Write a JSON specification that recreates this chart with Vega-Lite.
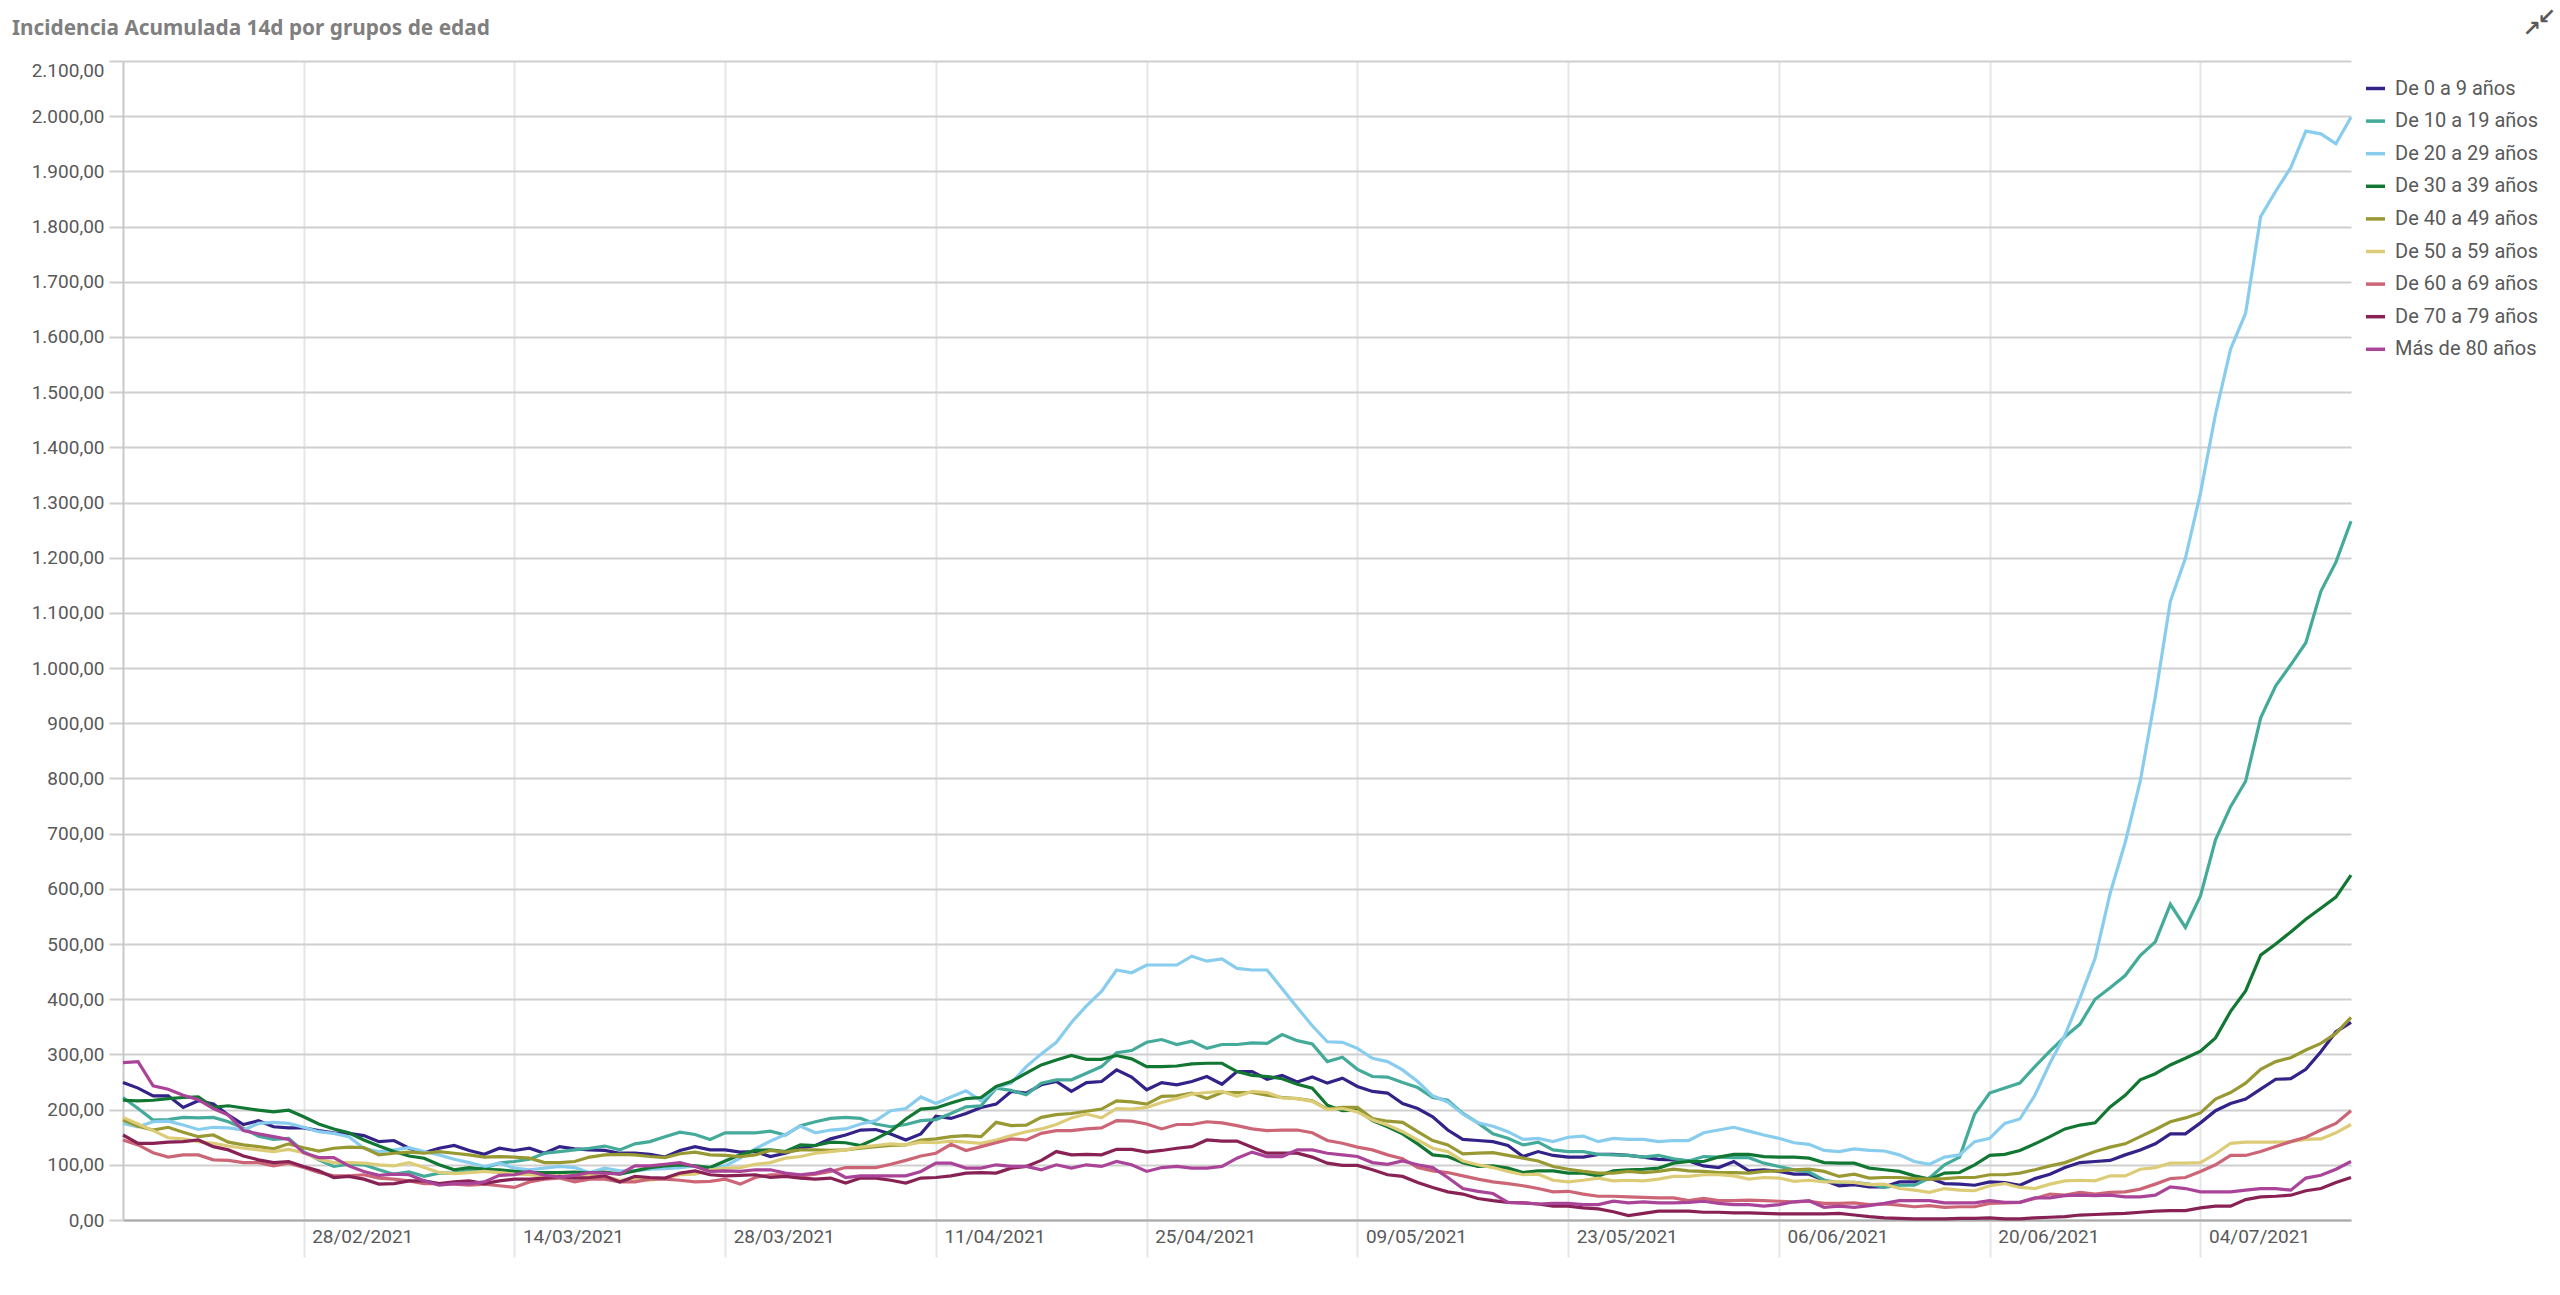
{
  "$schema": "https://vega.github.io/schema/vega-lite/v6.json",
  "autosize": {"type": "none"},
  "width": 2228,
  "height": 1159,
  "padding": {"left": 123, "top": 61, "right": 209, "bottom": 75},
  "background": "white",
  "title": {"text": "Incidencia Acumulada 14d por grupos de edad", "anchor": "start", "frame": "group", "dx": -111, "offset": -34, "font": "Noto Sans", "fontWeight": "bold", "fontSize": 20.8, "color": "#7f7f7f"},
  "layer": [
    {
      "data": {"values": [
        {"f":"2021-02-16","a0":249,"a10":222,"a20":175,"a30":217,"a40":181,"a50":186,"a60":145,"a70":154,"a80":285},
        {"f":"2021-02-17","a0":239,"a10":202,"a20":169,"a30":216,"a40":170,"a50":174,"a60":136,"a70":139,"a80":287},
        {"f":"2021-02-18","a0":225,"a10":181,"a20":178,"a30":217,"a40":163,"a50":162,"a60":122,"a70":139,"a80":243},
        {"f":"2021-02-19","a0":225,"a10":182,"a20":179,"a30":220,"a40":168,"a50":149,"a60":114,"a70":141,"a80":237},
        {"f":"2021-02-20","a0":204,"a10":186,"a20":172,"a30":222,"a40":159,"a50":147,"a60":118,"a70":142,"a80":226},
        {"f":"2021-02-21","a0":216,"a10":185,"a20":164,"a30":223,"a40":151,"a50":142,"a60":118,"a70":145,"a80":218},
        {"f":"2021-02-22","a0":210,"a10":186,"a20":168,"a30":204,"a40":154,"a50":139,"a60":109,"a70":133,"a80":202},
        {"f":"2021-02-23","a0":190,"a10":178,"a20":167,"a30":207,"a40":141,"a50":134,"a60":108,"a70":127,"a80":190},
        {"f":"2021-02-24","a0":173,"a10":166,"a20":163,"a30":203,"a40":136,"a50":130,"a60":104,"a70":116,"a80":162},
        {"f":"2021-02-25","a0":180,"a10":152,"a20":175,"a30":199,"a40":133,"a50":127,"a60":104,"a70":109,"a80":156},
        {"f":"2021-02-26","a0":169,"a10":146,"a20":177,"a30":196,"a40":129,"a50":124,"a60":98,"a70":104,"a80":151},
        {"f":"2021-02-27","a0":167,"a10":148,"a20":175,"a30":199,"a40":138,"a50":128,"a60":103,"a70":106,"a80":146},
        {"f":"2021-02-28","a0":167,"a10":124,"a20":168,"a30":187,"a40":131,"a50":122,"a60":95,"a70":97,"a80":122},
        {"f":"2021-03-01","a0":162,"a10":109,"a20":160,"a30":174,"a40":125,"a50":110,"a60":86,"a70":89,"a80":113},
        {"f":"2021-03-02","a0":158,"a10":97,"a20":157,"a30":165,"a40":130,"a50":104,"a60":80,"a70":77,"a80":113},
        {"f":"2021-03-03","a0":157,"a10":101,"a20":151,"a30":158,"a40":132,"a50":104,"a60":80,"a70":79,"a80":98},
        {"f":"2021-03-04","a0":153,"a10":100,"a20":130,"a30":145,"a40":131,"a50":103,"a60":82,"a70":74,"a80":88},
        {"f":"2021-03-05","a0":142,"a10":91,"a20":124,"a30":134,"a40":118,"a50":100,"a60":76,"a70":65,"a80":81},
        {"f":"2021-03-06","a0":144,"a10":83,"a20":127,"a30":124,"a40":121,"a50":98,"a60":74,"a70":66,"a80":83},
        {"f":"2021-03-07","a0":130,"a10":87,"a20":131,"a30":116,"a40":123,"a50":104,"a60":71,"a70":71,"a80":82},
        {"f":"2021-03-08","a0":122,"a10":79,"a20":124,"a30":112,"a40":121,"a50":95,"a60":66,"a70":71,"a80":71},
        {"f":"2021-03-09","a0":130,"a10":85,"a20":118,"a30":100,"a40":124,"a50":86,"a60":66,"a70":66,"a80":63},
        {"f":"2021-03-10","a0":135,"a10":85,"a20":110,"a30":91,"a40":121,"a50":84,"a60":65,"a70":69,"a80":66},
        {"f":"2021-03-11","a0":126,"a10":90,"a20":104,"a30":95,"a40":118,"a50":86,"a60":63,"a70":71,"a80":66},
        {"f":"2021-03-12","a0":119,"a10":94,"a20":97,"a30":92,"a40":114,"a50":88,"a60":65,"a70":66,"a80":69},
        {"f":"2021-03-13","a0":130,"a10":103,"a20":103,"a30":91,"a40":115,"a50":86,"a60":62,"a70":71,"a80":81},
        {"f":"2021-03-14","a0":126,"a10":106,"a20":94,"a30":88,"a40":114,"a50":83,"a60":59,"a70":74,"a80":82},
        {"f":"2021-03-15","a0":130,"a10":110,"a20":91,"a30":86,"a40":112,"a50":82,"a60":69,"a70":74,"a80":88},
        {"f":"2021-03-16","a0":121,"a10":121,"a20":94,"a30":86,"a40":104,"a50":79,"a60":74,"a70":76,"a80":81},
        {"f":"2021-03-17","a0":133,"a10":124,"a20":97,"a30":86,"a40":104,"a50":80,"a60":76,"a70":79,"a80":78},
        {"f":"2021-03-18","a0":129,"a10":127,"a20":95,"a30":87,"a40":106,"a50":79,"a60":69,"a70":76,"a80":81},
        {"f":"2021-03-19","a0":127,"a10":130,"a20":86,"a30":85,"a40":114,"a50":81,"a60":74,"a70":77,"a80":86},
        {"f":"2021-03-20","a0":126,"a10":134,"a20":94,"a30":87,"a40":118,"a50":79,"a60":74,"a70":80,"a80":85},
        {"f":"2021-03-21","a0":121,"a10":127,"a20":89,"a30":83,"a40":119,"a50":72,"a60":69,"a70":69,"a80":83},
        {"f":"2021-03-22","a0":121,"a10":138,"a20":89,"a30":89,"a40":118,"a50":74,"a60":69,"a70":79,"a80":98},
        {"f":"2021-03-23","a0":119,"a10":142,"a20":92,"a30":95,"a40":115,"a50":72,"a60":74,"a70":77,"a80":98},
        {"f":"2021-03-24","a0":114,"a10":151,"a20":93,"a30":98,"a40":113,"a50":76,"a60":74,"a70":76,"a80":101},
        {"f":"2021-03-25","a0":126,"a10":159,"a20":95,"a30":100,"a40":120,"a50":82,"a60":72,"a70":85,"a80":104},
        {"f":"2021-03-26","a0":133,"a10":155,"a20":98,"a30":98,"a40":123,"a50":83,"a60":69,"a70":89,"a80":97},
        {"f":"2021-03-27","a0":127,"a10":146,"a20":95,"a30":95,"a40":118,"a50":91,"a60":70,"a70":82,"a80":88},
        {"f":"2021-03-28","a0":127,"a10":158,"a20":98,"a30":107,"a40":117,"a50":94,"a60":74,"a70":80,"a80":89},
        {"f":"2021-03-29","a0":123,"a10":158,"a20":112,"a30":118,"a40":115,"a50":95,"a60":65,"a70":81,"a80":88},
        {"f":"2021-03-30","a0":124,"a10":158,"a20":129,"a30":126,"a40":118,"a50":101,"a60":77,"a70":82,"a80":91},
        {"f":"2021-03-31","a0":115,"a10":161,"a20":143,"a30":127,"a40":126,"a50":104,"a60":82,"a70":77,"a80":91},
        {"f":"2021-04-01","a0":121,"a10":154,"a20":155,"a30":124,"a40":123,"a50":112,"a60":82,"a70":79,"a80":85},
        {"f":"2021-04-02","a0":130,"a10":171,"a20":170,"a30":136,"a40":127,"a50":115,"a60":80,"a70":76,"a80":82},
        {"f":"2021-04-03","a0":135,"a10":178,"a20":158,"a30":135,"a40":127,"a50":121,"a60":83,"a70":74,"a80":85},
        {"f":"2021-04-04","a0":147,"a10":184,"a20":163,"a30":141,"a40":126,"a50":124,"a60":88,"a70":76,"a80":92},
        {"f":"2021-04-05","a0":154,"a10":186,"a20":165,"a30":140,"a40":127,"a50":127,"a60":95,"a70":67,"a80":77},
        {"f":"2021-04-06","a0":163,"a10":184,"a20":174,"a30":135,"a40":130,"a50":132,"a60":95,"a70":76,"a80":80},
        {"f":"2021-04-07","a0":164,"a10":174,"a20":180,"a30":147,"a40":133,"a50":135,"a60":95,"a70":76,"a80":80},
        {"f":"2021-04-08","a0":156,"a10":169,"a20":198,"a30":161,"a40":135,"a50":138,"a60":101,"a70":72,"a80":80},
        {"f":"2021-04-09","a0":145,"a10":173,"a20":202,"a30":183,"a40":136,"a50":136,"a60":108,"a70":67,"a80":80},
        {"f":"2021-04-10","a0":156,"a10":180,"a20":223,"a30":201,"a40":145,"a50":141,"a60":116,"a70":76,"a80":88},
        {"f":"2021-04-11","a0":188,"a10":182,"a20":211,"a30":203,"a40":147,"a50":140,"a60":121,"a70":77,"a80":103},
        {"f":"2021-04-12","a0":184,"a10":193,"a20":223,"a30":212,"a40":151,"a50":143,"a60":137,"a70":80,"a80":103},
        {"f":"2021-04-13","a0":193,"a10":205,"a20":234,"a30":220,"a40":153,"a50":141,"a60":126,"a70":85,"a80":94},
        {"f":"2021-04-14","a0":204,"a10":207,"a20":216,"a30":222,"a40":151,"a50":139,"a60":133,"a70":86,"a80":94},
        {"f":"2021-04-15","a0":210,"a10":239,"a20":240,"a30":242,"a40":177,"a50":145,"a60":140,"a70":85,"a80":100},
        {"f":"2021-04-16","a0":233,"a10":235,"a20":248,"a30":251,"a40":171,"a50":153,"a60":147,"a70":94,"a80":97},
        {"f":"2021-04-17","a0":230,"a10":227,"a20":278,"a30":266,"a40":172,"a50":160,"a60":145,"a70":97,"a80":97},
        {"f":"2021-04-18","a0":245,"a10":248,"a20":301,"a30":281,"a40":186,"a50":165,"a60":157,"a70":108,"a80":91},
        {"f":"2021-04-19","a0":251,"a10":254,"a20":322,"a30":290,"a40":191,"a50":173,"a60":162,"a70":124,"a80":100},
        {"f":"2021-04-20","a0":233,"a10":254,"a20":358,"a30":298,"a40":193,"a50":185,"a60":162,"a70":118,"a80":94},
        {"f":"2021-04-21","a0":249,"a10":266,"a20":388,"a30":291,"a40":197,"a50":192,"a60":165,"a70":119,"a80":100},
        {"f":"2021-04-22","a0":251,"a10":278,"a20":414,"a30":291,"a40":201,"a50":185,"a60":167,"a70":118,"a80":97},
        {"f":"2021-04-23","a0":272,"a10":303,"a20":453,"a30":298,"a40":216,"a50":202,"a60":180,"a70":128,"a80":106},
        {"f":"2021-04-24","a0":259,"a10":307,"a20":448,"a30":292,"a40":214,"a50":201,"a60":179,"a70":128,"a80":100},
        {"f":"2021-04-25","a0":236,"a10":322,"a20":462,"a30":278,"a40":210,"a50":204,"a60":174,"a70":123,"a80":88},
        {"f":"2021-04-26","a0":249,"a10":327,"a20":462,"a30":278,"a40":224,"a50":213,"a60":165,"a70":126,"a80":95},
        {"f":"2021-04-27","a0":245,"a10":318,"a20":462,"a30":279,"a40":225,"a50":220,"a60":173,"a70":130,"a80":97},
        {"f":"2021-04-28","a0":251,"a10":324,"a20":478,"a30":283,"a40":230,"a50":228,"a60":173,"a70":133,"a80":94},
        {"f":"2021-04-29","a0":260,"a10":311,"a20":469,"a30":284,"a40":220,"a50":231,"a60":178,"a70":145,"a80":94},
        {"f":"2021-04-30","a0":246,"a10":318,"a20":473,"a30":284,"a40":231,"a50":233,"a60":176,"a70":143,"a80":97},
        {"f":"2021-05-01","a0":269,"a10":318,"a20":456,"a30":269,"a40":231,"a50":224,"a60":171,"a70":143,"a80":112},
        {"f":"2021-05-02","a0":269,"a10":321,"a20":453,"a30":262,"a40":231,"a50":233,"a60":165,"a70":132,"a80":123},
        {"f":"2021-05-03","a0":255,"a10":320,"a20":453,"a30":260,"a40":226,"a50":231,"a60":162,"a70":121,"a80":115},
        {"f":"2021-05-04","a0":262,"a10":336,"a20":419,"a30":256,"a40":222,"a50":221,"a60":163,"a70":121,"a80":115},
        {"f":"2021-05-05","a0":250,"a10":325,"a20":385,"a30":246,"a40":220,"a50":220,"a60":163,"a70":121,"a80":127},
        {"f":"2021-05-06","a0":259,"a10":319,"a20":352,"a30":239,"a40":216,"a50":215,"a60":158,"a70":114,"a80":127},
        {"f":"2021-05-07","a0":248,"a10":287,"a20":323,"a30":208,"a40":201,"a50":200,"a60":144,"a70":103,"a80":121},
        {"f":"2021-05-08","a0":257,"a10":295,"a20":322,"a30":198,"a40":204,"a50":202,"a60":139,"a70":99,"a80":118},
        {"f":"2021-05-09","a0":242,"a10":273,"a20":311,"a30":199,"a40":204,"a50":196,"a60":132,"a70":99,"a80":115},
        {"f":"2021-05-10","a0":233,"a10":260,"a20":293,"a30":180,"a40":184,"a50":181,"a60":127,"a70":91,"a80":104},
        {"f":"2021-05-11","a0":230,"a10":259,"a20":287,"a30":169,"a40":179,"a50":172,"a60":118,"a70":82,"a80":101},
        {"f":"2021-05-12","a0":211,"a10":249,"a20":272,"a30":156,"a40":177,"a50":160,"a60":111,"a70":79,"a80":107},
        {"f":"2021-05-13","a0":202,"a10":240,"a20":251,"a30":138,"a40":160,"a50":145,"a60":95,"a70":68,"a80":100},
        {"f":"2021-05-14","a0":187,"a10":222,"a20":225,"a30":118,"a40":144,"a50":130,"a60":89,"a70":59,"a80":95},
        {"f":"2021-05-15","a0":163,"a10":217,"a20":214,"a30":115,"a40":136,"a50":124,"a60":86,"a70":51,"a80":77},
        {"f":"2021-05-16","a0":146,"a10":193,"a20":192,"a30":104,"a40":120,"a50":107,"a60":80,"a70":47,"a80":57},
        {"f":"2021-05-17","a0":144,"a10":176,"a20":176,"a30":97,"a40":121,"a50":100,"a60":74,"a70":39,"a80":52},
        {"f":"2021-05-18","a0":142,"a10":156,"a20":170,"a30":98,"a40":122,"a50":95,"a60":69,"a70":35,"a80":48},
        {"f":"2021-05-19","a0":135,"a10":148,"a20":160,"a30":94,"a40":117,"a50":88,"a60":66,"a70":32,"a80":32},
        {"f":"2021-05-20","a0":115,"a10":136,"a20":146,"a30":86,"a40":112,"a50":82,"a60":62,"a70":31,"a80":31},
        {"f":"2021-05-21","a0":124,"a10":141,"a20":148,"a30":89,"a40":107,"a50":83,"a60":57,"a70":29,"a80":29},
        {"f":"2021-05-22","a0":117,"a10":127,"a20":142,"a30":89,"a40":97,"a50":72,"a60":51,"a70":25,"a80":30},
        {"f":"2021-05-23","a0":114,"a10":124,"a20":150,"a30":85,"a40":92,"a50":69,"a60":52,"a70":25,"a80":30},
        {"f":"2021-05-24","a0":114,"a10":124,"a20":152,"a30":85,"a40":88,"a50":72,"a60":47,"a70":22,"a80":28},
        {"f":"2021-05-25","a0":119,"a10":119,"a20":142,"a30":80,"a40":85,"a50":76,"a60":43,"a70":20,"a80":28},
        {"f":"2021-05-26","a0":119,"a10":118,"a20":148,"a30":89,"a40":85,"a50":71,"a60":43,"a70":15,"a80":34},
        {"f":"2021-05-27","a0":117,"a10":117,"a20":146,"a30":91,"a40":88,"a50":72,"a60":42,"a70":8,"a80":31},
        {"f":"2021-05-28","a0":114,"a10":114,"a20":146,"a30":92,"a40":86,"a50":71,"a60":41,"a70":12,"a80":33},
        {"f":"2021-05-29","a0":110,"a10":117,"a20":142,"a30":94,"a40":88,"a50":74,"a60":40,"a70":16,"a80":31},
        {"f":"2021-05-30","a0":109,"a10":111,"a20":144,"a30":103,"a40":92,"a50":79,"a60":40,"a70":16,"a80":31},
        {"f":"2021-05-31","a0":107,"a10":107,"a20":144,"a30":106,"a40":89,"a50":79,"a60":35,"a70":16,"a80":32},
        {"f":"2021-06-01","a0":98,"a10":115,"a20":158,"a30":106,"a40":88,"a50":82,"a60":39,"a70":14,"a80":34},
        {"f":"2021-06-02","a0":95,"a10":114,"a20":163,"a30":114,"a40":86,"a50":82,"a60":35,"a70":14,"a80":30},
        {"f":"2021-06-03","a0":106,"a10":113,"a20":168,"a30":119,"a40":86,"a50":80,"a60":35,"a70":13,"a80":28},
        {"f":"2021-06-04","a0":89,"a10":113,"a20":161,"a30":119,"a40":85,"a50":74,"a60":36,"a70":13,"a80":28},
        {"f":"2021-06-05","a0":91,"a10":103,"a20":154,"a30":115,"a40":88,"a50":77,"a60":35,"a70":12,"a80":25},
        {"f":"2021-06-06","a0":88,"a10":97,"a20":148,"a30":114,"a40":89,"a50":76,"a60":34,"a70":11,"a80":28},
        {"f":"2021-06-07","a0":83,"a10":91,"a20":140,"a30":114,"a40":91,"a50":70,"a60":33,"a70":11,"a80":33},
        {"f":"2021-06-08","a0":83,"a10":87,"a20":137,"a30":112,"a40":92,"a50":72,"a60":34,"a70":11,"a80":35},
        {"f":"2021-06-09","a0":72,"a10":72,"a20":126,"a30":104,"a40":88,"a50":69,"a60":30,"a70":11,"a80":23},
        {"f":"2021-06-10","a0":62,"a10":68,"a20":124,"a30":103,"a40":79,"a50":69,"a60":30,"a70":12,"a80":25},
        {"f":"2021-06-11","a0":64,"a10":68,"a20":129,"a30":103,"a40":83,"a50":68,"a60":31,"a70":9,"a80":23},
        {"f":"2021-06-12","a0":60,"a10":65,"a20":126,"a30":94,"a40":76,"a50":64,"a60":28,"a70":6,"a80":26},
        {"f":"2021-06-13","a0":60,"a10":59,"a20":125,"a30":91,"a40":77,"a50":65,"a60":29,"a70":4,"a80":30},
        {"f":"2021-06-14","a0":69,"a10":63,"a20":118,"a30":88,"a40":77,"a50":57,"a60":27,"a70":3,"a80":35},
        {"f":"2021-06-15","a0":69,"a10":63,"a20":106,"a30":80,"a40":75,"a50":54,"a60":24,"a70":2,"a80":35},
        {"f":"2021-06-16","a0":76,"a10":76,"a20":101,"a30":74,"a40":74,"a50":50,"a60":26,"a70":2,"a80":35},
        {"f":"2021-06-17","a0":66,"a10":100,"a20":114,"a30":85,"a40":75,"a50":57,"a60":23,"a70":2,"a80":31},
        {"f":"2021-06-18","a0":65,"a10":114,"a20":118,"a30":86,"a40":77,"a50":54,"a60":24,"a70":3,"a80":31},
        {"f":"2021-06-19","a0":63,"a10":192,"a20":142,"a30":100,"a40":77,"a50":53,"a60":24,"a70":3,"a80":31},
        {"f":"2021-06-20","a0":69,"a10":230,"a20":148,"a30":117,"a40":82,"a50":62,"a60":30,"a70":4,"a80":35},
        {"f":"2021-06-21","a0":68,"a10":239,"a20":175,"a30":119,"a40":82,"a50":66,"a60":31,"a70":2,"a80":32},
        {"f":"2021-06-22","a0":63,"a10":248,"a20":183,"a30":126,"a40":85,"a50":59,"a60":32,"a70":2,"a80":32},
        {"f":"2021-06-23","a0":75,"a10":278,"a20":226,"a30":138,"a40":91,"a50":57,"a60":39,"a70":4,"a80":40},
        {"f":"2021-06-24","a0":83,"a10":306,"a20":284,"a30":151,"a40":98,"a50":65,"a60":47,"a70":5,"a80":40},
        {"f":"2021-06-25","a0":95,"a10":332,"a20":335,"a30":165,"a40":104,"a50":71,"a60":45,"a70":6,"a80":44},
        {"f":"2021-06-26","a0":104,"a10":355,"a20":402,"a30":172,"a40":114,"a50":72,"a60":50,"a70":9,"a80":45},
        {"f":"2021-06-27","a0":106,"a10":400,"a20":474,"a30":176,"a40":124,"a50":71,"a60":47,"a70":10,"a80":44},
        {"f":"2021-06-28","a0":108,"a10":421,"a20":592,"a30":205,"a40":132,"a50":80,"a60":50,"a70":11,"a80":45},
        {"f":"2021-06-29","a0":118,"a10":443,"a20":684,"a30":226,"a40":138,"a50":80,"a60":51,"a70":12,"a80":42},
        {"f":"2021-06-30","a0":127,"a10":479,"a20":795,"a30":254,"a40":151,"a50":92,"a60":56,"a70":14,"a80":42},
        {"f":"2021-07-01","a0":138,"a10":504,"a20":948,"a30":265,"a40":164,"a50":95,"a60":65,"a70":16,"a80":45},
        {"f":"2021-07-02","a0":156,"a10":572,"a20":1121,"a30":281,"a40":178,"a50":103,"a60":75,"a70":17,"a80":60},
        {"f":"2021-07-03","a0":156,"a10":530,"a20":1199,"a30":293,"a40":185,"a50":103,"a60":77,"a70":17,"a80":57},
        {"f":"2021-07-04","a0":176,"a10":587,"a20":1317,"a30":306,"a40":194,"a50":104,"a60":88,"a70":22,"a80":51},
        {"f":"2021-07-05","a0":198,"a10":689,"a20":1460,"a30":330,"a40":219,"a50":120,"a60":100,"a70":25,"a80":51},
        {"f":"2021-07-06","a0":211,"a10":749,"a20":1578,"a30":378,"a40":231,"a50":139,"a60":117,"a70":25,"a80":51},
        {"f":"2021-07-07","a0":219,"a10":795,"a20":1643,"a30":415,"a40":248,"a50":141,"a60":117,"a70":37,"a80":54},
        {"f":"2021-07-08","a0":237,"a10":910,"a20":1818,"a30":480,"a40":273,"a50":141,"a60":124,"a70":42,"a80":57},
        {"f":"2021-07-09","a0":255,"a10":968,"a20":1864,"a30":500,"a40":287,"a50":141,"a60":133,"a70":43,"a80":57},
        {"f":"2021-07-10","a0":256,"a10":1006,"a20":1907,"a30":522,"a40":294,"a50":142,"a60":142,"a70":45,"a80":54},
        {"f":"2021-07-11","a0":273,"a10":1046,"a20":1973,"a30":545,"a40":308,"a50":146,"a60":150,"a70":53,"a80":76},
        {"f":"2021-07-12","a0":305,"a10":1139,"a20":1968,"a30":565,"a40":320,"a50":147,"a60":163,"a70":57,"a80":81},
        {"f":"2021-07-13","a0":341,"a10":1192,"a20":1950,"a30":585,"a40":338,"a50":158,"a60":175,"a70":68,"a80":92},
        {"f":"2021-07-14","a0":358,"a10":1266,"a20":1998,"a30":625,"a40":367,"a50":173,"a60":198,"a70":77,"a80":106}
      ]},
      "transform": [
        {"fold": ["a0","a10","a20","a30","a40","a50","a60","a70","a80"], "as": ["clave","ia"]},
        {"lookup": "clave", "from": {"data": {"values": [
          {"clave":"a0","grupo":"De 0 a 9 años"},
          {"clave":"a10","grupo":"De 10 a 19 años"},
          {"clave":"a20","grupo":"De 20 a 29 años"},
          {"clave":"a30","grupo":"De 30 a 39 años"},
          {"clave":"a40","grupo":"De 40 a 49 años"},
          {"clave":"a50","grupo":"De 50 a 59 años"},
          {"clave":"a60","grupo":"De 60 a 69 años"},
          {"clave":"a70","grupo":"De 70 a 79 años"},
          {"clave":"a80","grupo":"Más de 80 años"}
        ]}, "key": "clave", "fields": ["grupo"]}}
      ],
      "mark": {"type": "line", "strokeWidth": 3.2, "strokeJoin": "miter", "clip": false},
      "encoding": {
        "x": {
          "field": "f", "type": "temporal", "title": null,
          "scale": {"type": "utc", "domain": [{"year":2021,"month":2,"date":16,"utc":true},{"year":2021,"month":7,"date":14,"utc":true}]},
          "axis": {
            "labelExpr": "utcFormat(datum.value, '%d/%m/%Y')",
            "values": [
              {"year":2021,"month":2,"date":28,"utc":true},{"year":2021,"month":3,"date":14,"utc":true},{"year":2021,"month":3,"date":28,"utc":true},
              {"year":2021,"month":4,"date":11,"utc":true},{"year":2021,"month":4,"date":25,"utc":true},{"year":2021,"month":5,"date":9,"utc":true},
              {"year":2021,"month":5,"date":23,"utc":true},{"year":2021,"month":6,"date":6,"utc":true},{"year":2021,"month":6,"date":20,"utc":true},
              {"year":2021,"month":7,"date":4,"utc":true}
            ],
            "grid": true, "gridColor": "#e6e6e6", "gridWidth": 2,
            "domainColor": "#a8a8a8", "domainWidth": 2,
            "tickColor": "#e6e6e6", "tickWidth": 2, "tickSize": 37,
            "labelFont": "Roboto", "labelFontSize": 19, "labelColor": "#595959",
            "labelAlign": "left", "labelBaseline": "middle", "labelOffset": 8, "labelPadding": -21, "labelFlush": false, "labelOverlap": false
          }
        },
        "y": {
          "field": "ia", "type": "quantitative", "title": null,
          "scale": {"domain": [0, 2100], "nice": false},
          "axis": {
            "format": ",.2f",
            "values": [0,100,200,300,400,500,600,700,800,900,1000,1100,1200,1300,1400,1500,1600,1700,1800,1900,2000,2100],
            "grid": true, "gridColor": "#cfcfcf", "gridWidth": 2,
            "domainColor": "#c8c8c8", "domainWidth": 2,
            "tickColor": "#cfcfcf", "tickWidth": 2, "tickSize": 14,
            "labelFont": "Roboto", "labelFontSize": 19, "labelColor": "#595959", "labelPadding": 5,
            "labelBaseline": {"condition": {"test": "datum.value == 2100", "value": "top"}, "value": "middle"},
            "labelOverlap": false
          }
        },
        "color": {
          "field": "grupo", "type": "nominal",
          "scale": {
            "domain": ["De 0 a 9 años","De 10 a 19 años","De 20 a 29 años","De 30 a 39 años","De 40 a 49 años","De 50 a 59 años","De 60 a 69 años","De 70 a 79 años","Más de 80 años"],
            "range": ["#332288","#44aa99","#88ccee","#117733","#999933","#ddcc77","#cc6677","#882255","#aa4499"]
          },
          "legend": {
            "title": null, "orient": "none", "legendX": 2241, "legendY": 16,
            "symbolType": "stroke", "symbolSize": 361, "symbolStrokeWidth": 3.5,
            "labelFont": "Roboto", "labelFontSize": 20, "labelColor": "#595959", "labelOffset": 8, "rowPadding": 10.6, "padding": 0
          }
        }
      }
    },
    {
      "data": {"values": [{"icono": "↗", "f": "2021-07-26", "v": 2158}, {"icono": "↙", "f": "2021-07-27", "v": 2180}]},
      "mark": {"type": "text", "font": "DejaVu Sans", "fontWeight": "bold", "fontSize": 22, "color": "#595959"},
      "encoding": {
        "x": {"field": "f", "type": "temporal"},
        "y": {"field": "v", "type": "quantitative"},
        "text": {"field": "icono", "type": "nominal"}
      }
    }
  ],
  "config": {
    "view": {"stroke": null},
    "locale": {"number": {"decimal": ",", "thousands": ".", "grouping": [3], "currency": ["", " €"]}}
  }
}
